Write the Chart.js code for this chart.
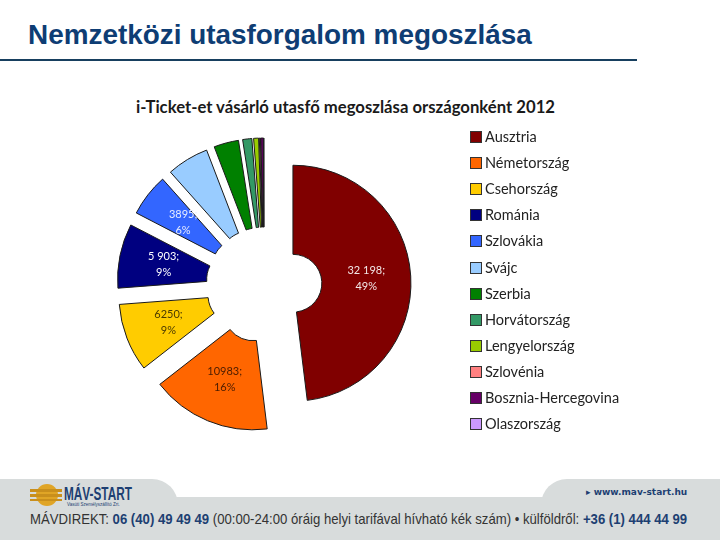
<!DOCTYPE html>
<html lang="hu">
<head>
<meta charset="utf-8">
<title>Nemzetközi utasforgalom megoszlása</title>
<script src="https://cdn.jsdelivr.net/npm/chart.js@4"></script>
<style>
  html, body { margin: 0; padding: 0; background: #fff; }
  #page { position: relative; width: 720px; height: 540px; overflow: hidden; }
  #page div, #page span { position: absolute; white-space: nowrap; }
  #pie { position: absolute; left: 0; top: 0; }
  #heading { left: 28px; top: 19px; font: bold 27.9px "Liberation Sans", Arial, sans-serif; color: #0e3d74; }
  #rule { left: 0; top: 59px; width: 637px; height: 2px; background: #173f5f; }
  #chartTitle { left: 136px; top: 97px; font: bold 16.7px Lato, sans-serif; color: #1a1a1a; }
  .swatch { left: 470px; width: 10px; height: 10px; border: 1px solid #333; }
  .item { left: 485px; font: 14.5px Lato, sans-serif; color: #222; }
  .band { background: #d8dcdc; }
  #logo { left: 64px; top: 483px; font: bold 19px "Liberation Sans", sans-serif; color: #1d3f72; transform: scaleX(0.62); transform-origin: left; }
  #logoSub { left: 67px; top: 502px; font: 4.5px "Liberation Sans", sans-serif; color: #1d3f72; }
  #web { left: 586px; top: 487px; font: bold 9px "DejaVu Sans", sans-serif; color: #1d3f72; }
  #direct { left: 30px; top: 511px; font: 14.2px "Liberation Sans", Arial, sans-serif; color: #333; transform: scaleX(0.927); transform-origin: left; }
  #direct b { color: #1d3f72; }
</style>
</head>
<body>
<div id="page">
  <div class="band" style="left:0;top:497px;width:720px;height:43px"></div>
  <div class="band" style="left:0;top:479px;width:178px;height:40px;border-top-right-radius:26px"></div>
  <div class="band" style="left:541px;top:479px;width:179px;height:40px;border-top-left-radius:26px"></div>
  <div style="left:36px;top:484px;width:22px;height:22px;border-radius:11px;background:#e0a526"></div>
  <div style="left:30px;top:489px;width:32px;height:3px;background:#c98f1c"></div>
  <div style="left:30px;top:494px;width:32px;height:3px;background:#c98f1c"></div>
  <div style="left:30px;top:499px;width:32px;height:2px;background:#c98f1c"></div>
  <div id="logo">MÁV-START</div>
  <div id="logoSub">Vasúti Személyszállító Zrt.</div>
  <div id="web">▸ www.mav-start.hu</div>
  <div id="direct">MÁVDIREKT: <b>06 (40) 49 49 49</b> (00:00-24:00 óráig helyi tarifával hívható kék szám) • külföldről: <b>+36 (1) 444 44 99</b></div>
  <div id="heading">Nemzetközi utasforgalom megoszlása</div>
  <div id="rule"></div>
  <div id="chartTitle">i-Ticket-et vásárló utasfő megoszlása országonként 2012</div>
  <canvas id="pie" width="720" height="540"></canvas>
</div>
<script>
const countries = ['Ausztria','Németország','Csehország','Románia','Szlovákia','Svájc','Szerbia','Horvátország','Lengyelország','Szlovénia','Bosznia-Hercegovina','Olaszország'];
const passengers = [32198,10983,6250,5903,3895,3850,2270,840,450,100,220,30];
const colors = ['#800000','#ff6600','#ffcc00','#000080','#3366ff','#99ccff','#008000','#339966','#99cc00','#ff8080','#660066','#cc99ff'];
const valueLabels = ['32 198;','10983;','6250;','5 903;','3895;'];
const percentLabels = ['49%','16%','9%','9%','6%'];
const labelColors = ['#f2e6e6','#4a1c00','#4a3a00','#ffffff','#e6ecff'];
const explode = 29;

// legend
const page = document.getElementById('page');
countries.forEach(function(name, i) {
  const y = 137 + i * 26.1;
  const box = document.createElement('span');
  box.className = 'swatch';
  box.style.top = (y - 6) + 'px';
  box.style.background = colors[i];
  page.appendChild(box);
  const text = document.createElement('span');
  text.className = 'item';
  text.style.top = (y - 9) + 'px';
  text.textContent = name;
  page.appendChild(text);
});

// the built-in arc offset eats into thin slices, so push each arc out here instead
function explodeShift(arc) {
  const mid = (arc.startAngle + arc.endAngle) / 2;
  return { x: Math.cos(mid) * explode, y: Math.sin(mid) * explode };
}
const drawArc = Chart.ArcElement.prototype.draw;
Chart.ArcElement.prototype.draw = function(ctx) {
  const shift = explodeShift(this);
  ctx.save();
  ctx.translate(shift.x, shift.y);
  drawArc.call(this, ctx);
  ctx.restore();
};

// value + percent text on the big slices
const sliceLabels = {
  id: 'sliceLabels',
  afterDatasetsDraw: function(chart) {
    const ctx = chart.ctx;
    const arcs = chart.getDatasetMeta(0).data;
    ctx.save();
    ctx.font = '11px Lato, sans-serif';
    ctx.textAlign = 'center';
    ctx.textBaseline = 'middle';
    valueLabels.forEach(function(text, i) {
      const p = arcs[i].getCenterPoint();
      const shift = explodeShift(arcs[i]);
      ctx.fillStyle = labelColors[i];
      ctx.fillText(text, p.x + shift.x, p.y + shift.y - 8);
      ctx.fillText(percentLabels[i], p.x + shift.x, p.y + shift.y + 8);
    });
    ctx.restore();
  }
};

new Chart(document.getElementById('pie'), {
  type: 'doughnut',
  data: {
    labels: countries,
    datasets: [{
      data: passengers,
      backgroundColor: colors,
      borderColor: '#1a1a1a',
      borderWidth: 1
    }]
  },
  options: {
    responsive: false,
    animation: false,
    cutout: '24.5%',
    layout: { padding: { left: 145.5, right: 337.5, top: 166.5, bottom: 136.5 } },
    plugins: { legend: { display: false }, tooltip: { enabled: false } }
  },
  plugins: [sliceLabels]
});
</script>
</body>
</html>
